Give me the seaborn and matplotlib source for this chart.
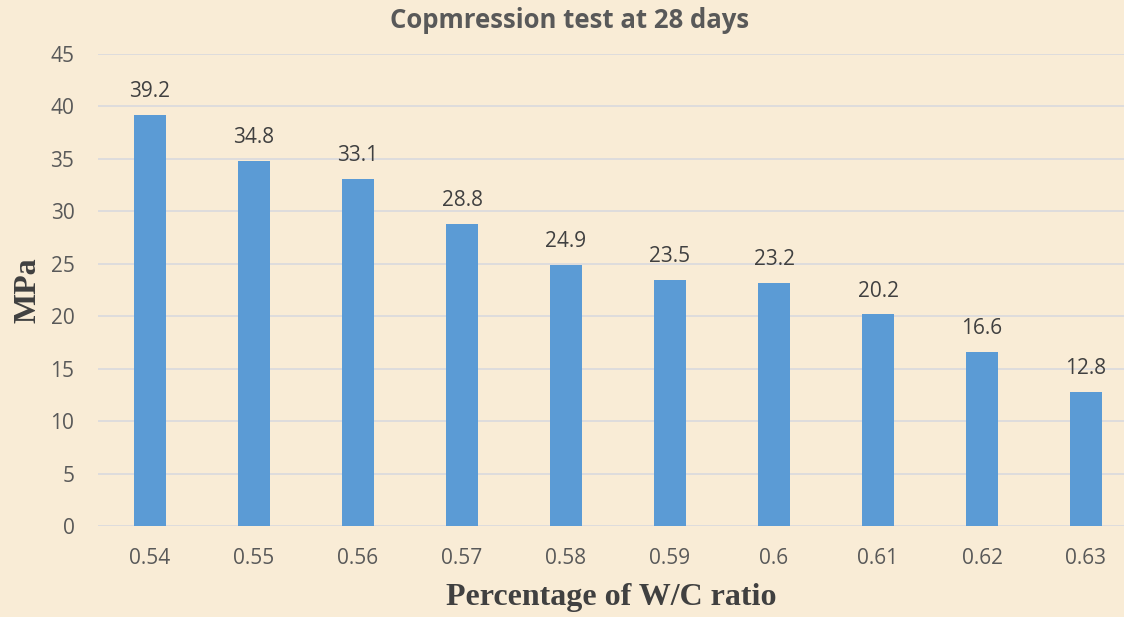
import matplotlib
matplotlib.use("Agg")
import matplotlib.pyplot as plt
import seaborn as sns
import pandas as pd

ratios = ["0.54", "0.55", "0.56", "0.57", "0.58", "0.59", "0.6", "0.61", "0.62", "0.63"]
strength = [39.2, 34.8, 33.1, 28.8, 24.9, 23.5, 23.2, 20.2, 16.6, 12.8]

df = pd.DataFrame({"ratio": ratios, "MPa": strength})

sns.set_style("white")
plt.rcParams["font.family"] = ["Open Sans", "DejaVu Sans"]

bg = "#F9ECD6"
fig = plt.figure(figsize=(11.24, 6.17), dpi=100)
fig.patch.set_facecolor(bg)
ax = fig.add_axes([98 / 1124, 91 / 617, (1124 - 98) / 1124, (526 - 54) / 617])
ax.set_facecolor(bg)

sns.barplot(data=df, x="ratio", y="MPa", color="#5B9BD5", saturation=1,
            width=0.31, linewidth=0, ax=ax, zorder=3)

for p, v in zip(ax.patches, strength):
    ax.annotate(f"{v}", (p.get_x() + p.get_width() / 2, v),
                xytext=(0, 9), textcoords="offset points",
                ha="center", va="bottom", fontsize=15, color="#404040")

ax.set_ylim(0, 45)
ax.set_yticks(range(0, 46, 5))
ax.set_xlim(-0.5, -0.5 + (1124 - 98) / 104)
ax.grid(axis="y", color="#D9D9DE", linewidth=1.2, zorder=0)
for s in ax.spines.values():
    s.set_visible(False)
ax.tick_params(axis="both", length=0, labelsize=15, labelcolor="#595959")
ax.tick_params(axis="y", pad=17)
ax.tick_params(axis="x", pad=16)

ax.set_xlabel("Percentage of W/C ratio", family="Liberation Serif",
              fontweight="bold", fontsize=23, color="#404040", labelpad=10)
ax.set_ylabel("MPa", family="Liberation Serif", fontweight="bold",
              fontsize=23, color="#404040", labelpad=6)
fig.text(570 / 1124, 1 - 20 / 617, "Copmression test at 28 days", ha="center",
         va="center", fontsize=18.5, fontweight="bold", color="#595959")

plt.savefig("out.png", dpi=100, facecolor=bg)
plt.close()
